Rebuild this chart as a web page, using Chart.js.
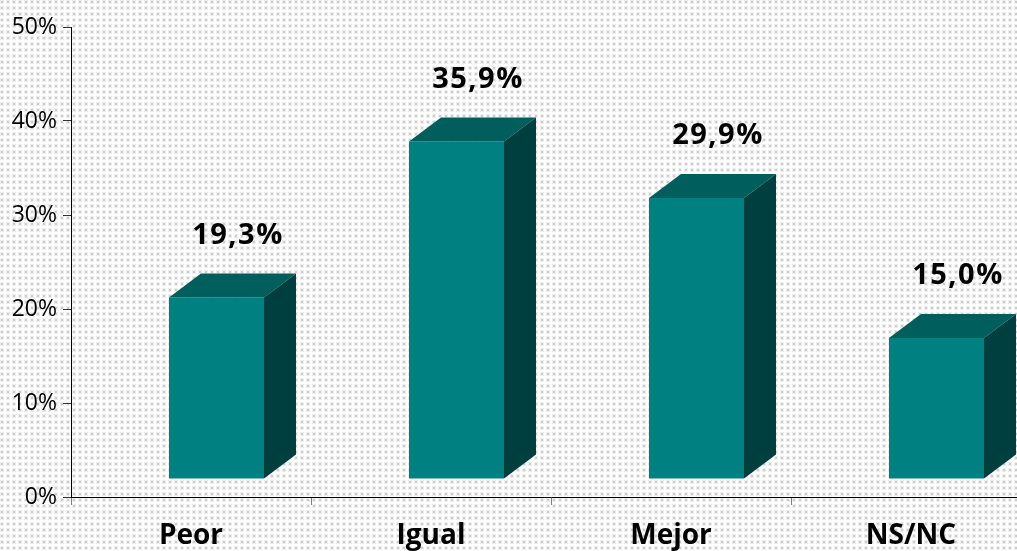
<!DOCTYPE html>
<html>
<head>
<meta charset="utf-8">
<script src="https://cdn.jsdelivr.net/npm/chart.js@4/dist/chart.umd.min.js"></script>
<style>
  html, body { margin: 0; padding: 0; overflow: hidden; background: #fff; }
  canvas { display: block; }
</style>
</head>
<body>
<canvas id="c" width="1031" height="551"></canvas>
<script>
const categories = ['Peor', 'Igual', 'Mejor', 'NS/NC'];
const values = [19.3, 35.9, 29.9, 15.0];
const valueLabels = ['19,3%', '35,9%', '29,9%', '15,0%'];
const yTicks = [0, 10, 20, 30, 40, 50];

// 3D projection style
const FRONT_DX = 25.5, FRONT_DY = -18;
const DEPTH_X = 32, DEPTH_Y = -24;
const COL_FRONT = '#008080', COL_TOP = '#005f5c', COL_SIDE = '#003f3f';

function makePattern(ctx) {
  const t = document.createElement('canvas');
  t.width = 6; t.height = 6;
  const g = t.getContext('2d');
  g.fillStyle = '#ffffff'; g.fillRect(0, 0, 6, 6);
  g.fillStyle = '#eeeeee'; g.fillRect(0, 0, 4, 4);
  g.fillStyle = '#cccccc'; g.fillRect(1, 1, 2, 2);
  return ctx.createPattern(t, 'repeat');
}

const bgPlugin = {
  id: 'bg',
  beforeDraw(chart) {
    const ctx = chart.ctx;
    ctx.save();
    ctx.fillStyle = makePattern(ctx);
    ctx.fillRect(0, 0, chart.width, chart.height);
    ctx.restore();
  }
};

const bar3d = {
  id: 'bar3d',
  beforeDatasetsDraw(chart) {
    chart.ctx.save();
    chart.ctx.translate(FRONT_DX, FRONT_DY);
  },
  afterDatasetsDraw(chart) {
    const ctx = chart.ctx;
    const meta = chart.getDatasetMeta(0);
    meta.data.forEach((el) => {
      const p = el.getProps(['x', 'y', 'base', 'width'], true);
      const l = p.x - p.width / 2, r = p.x + p.width / 2;
      // top face
      ctx.fillStyle = COL_TOP;
      ctx.beginPath();
      ctx.moveTo(l, p.y);
      ctx.lineTo(l + DEPTH_X, p.y + DEPTH_Y);
      ctx.lineTo(r + DEPTH_X, p.y + DEPTH_Y);
      ctx.lineTo(r, p.y);
      ctx.closePath();
      ctx.fill();
      // side face
      ctx.fillStyle = COL_SIDE;
      ctx.beginPath();
      ctx.moveTo(r, p.y);
      ctx.lineTo(r + DEPTH_X, p.y + DEPTH_Y);
      ctx.lineTo(r + DEPTH_X, p.base + DEPTH_Y);
      ctx.lineTo(r, p.base);
      ctx.closePath();
      ctx.fill();
    });
    ctx.restore();
    // value labels
    ctx.save();
    ctx.font = 'bold 29px "Open Sans"';
    ctx.letterSpacing = '1.5px';
    ctx.fillStyle = '#000';
    ctx.textAlign = 'center';
    ctx.textBaseline = 'middle';
    meta.data.forEach((el, i) => {
      const p = el.getProps(['x', 'y'], true);
      ctx.fillText(valueLabels[i], p.x + 47, p.y + FRONT_DY - 62);
    });
    ctx.restore();
  }
};

new Chart(document.getElementById('c'), {
  type: 'bar',
  data: {
    labels: categories,
    datasets: [{
      data: values,
      backgroundColor: COL_FRONT,
      borderWidth: 0,
      barPercentage: 0.396,
      categoryPercentage: 1
    }]
  },
  options: {
    responsive: false,
    animation: false,
    layout: { padding: { top: 27, left: 0, right: 0, bottom: 0 } },
    plugins: { legend: { display: false }, tooltip: { enabled: false } },
    scales: {
      x: {
        afterFit(s) { s.height = 54; },
        grid: { drawOnChartArea: false, drawTicks: true, tickLength: 8, color: '#808080', offset: true },
        border: { display: true, color: '#000', width: 1 },
        ticks: { color: '#000', padding: 14, font: { family: 'Open Sans', weight: 'bold', size: 28 } }
      },
      y: {
        min: 0, max: 50,
        afterFit(s) { s.width = 71; },
        afterBuildTicks(s) { s.ticks = yTicks.map(v => ({ value: v })); },
        grid: { drawOnChartArea: false, drawTicks: true, tickLength: 8, color: '#333' },
        border: { display: true, color: '#000', width: 1 },
        ticks: { color: '#000', padding: 6, callback: v => v + '%', font: { family: 'Open Sans', size: 23 } }
      }
    }
  },
  plugins: [bgPlugin, bar3d]
});
</script>
</body>
</html>
